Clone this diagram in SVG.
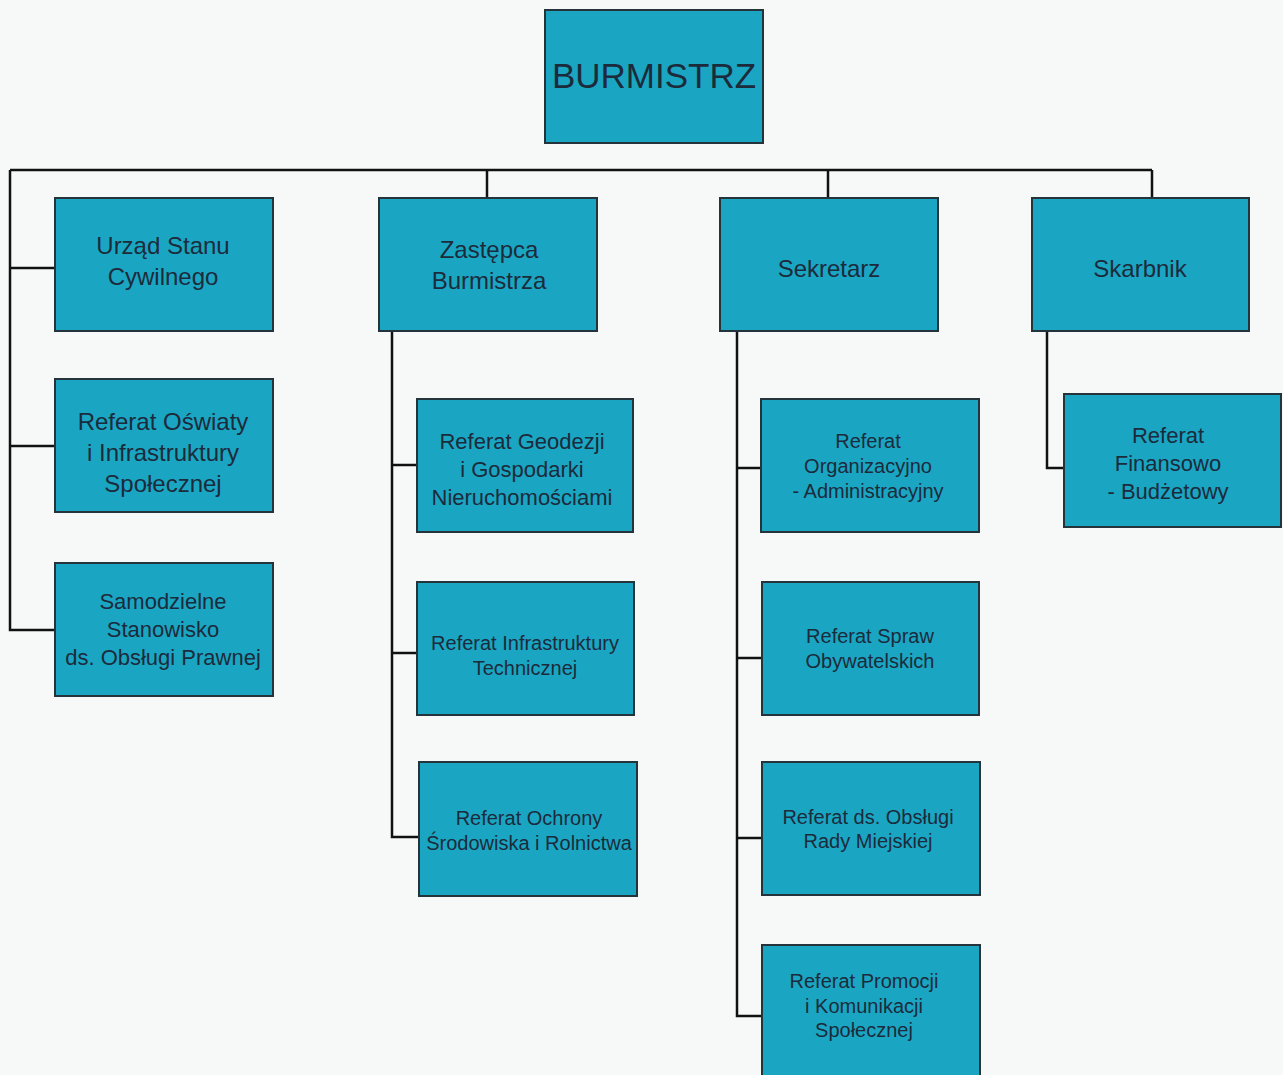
<svg xmlns="http://www.w3.org/2000/svg" width="1283" height="1075" viewBox="0 0 1283 1075">
<style>
.box{fill:#1aa6c2;stroke:#25343a;stroke-width:2}
.t{font-family:"Liberation Sans",Arial,sans-serif;fill:#1c2b3c;text-anchor:middle}
.l{fill:none;stroke:#111;stroke-width:2.5}
</style>
<rect width="1283" height="1075" fill="#f7f8f8"/>
<g id="connectors">
<path class="l" d="M10 170H1152M10 170V630H55M10 268H55M10 446H55"/>
<path class="l" d="M487 170V198M828 170V198M1152 170V198"/>
<path class="l" d="M392 332V837H419M392 465H417M392 653H417"/>
<path class="l" d="M737 332V1016H762M737 468H761M737 658H762M737 838H762"/>
<path class="l" d="M1047 332V468H1064"/>
</g>
<g id="burmistrz"><rect class="box" x="545" y="10" width="218" height="133"/><text class="t" x="654" y="88" font-size="35">BURMISTRZ</text></g>
<g id="usc"><rect class="box" x="55" y="198" width="218" height="133"/><text class="t" x="163" y="254" font-size="24">Urząd Stanu</text><text class="t" x="163" y="285" font-size="24">Cywilnego</text></g>
<g id="zastepca"><rect class="box" x="379" y="198" width="218" height="133"/><text class="t" x="489" y="258" font-size="24">Zastępca</text><text class="t" x="489" y="289" font-size="24">Burmistrza</text></g>
<g id="sekretarz"><rect class="box" x="720" y="198" width="218" height="133"/><text class="t" x="829" y="277" font-size="24">Sekretarz</text></g>
<g id="skarbnik"><rect class="box" x="1032" y="198" width="217" height="133"/><text class="t" x="1140" y="277" font-size="24">Skarbnik</text></g>
<g id="oswiaty"><rect class="box" x="55" y="379" width="218" height="133"/><text class="t" x="163" y="430" font-size="24">Referat Oświaty</text><text class="t" x="163" y="461" font-size="24">i Infrastruktury</text><text class="t" x="163" y="492" font-size="24">Społecznej</text></g>
<g id="prawna"><rect class="box" x="55" y="563" width="218" height="133"/><text class="t" x="163" y="609" font-size="22">Samodzielne</text><text class="t" x="163" y="637" font-size="22">Stanowisko</text><text class="t" x="163" y="665" font-size="22">ds. Obsługi Prawnej</text></g>
<g id="geodezji"><rect class="box" x="417" y="399" width="216" height="133"/><text class="t" x="522" y="449" font-size="22">Referat Geodezji</text><text class="t" x="522" y="477" font-size="22">i Gospodarki</text><text class="t" x="522" y="505" font-size="22">Nieruchomościami</text></g>
<g id="infrastruktury"><rect class="box" x="417" y="582" width="217" height="133"/><text class="t" x="525" y="650" font-size="20">Referat Infrastruktury</text><text class="t" x="525" y="675" font-size="20">Technicznej</text></g>
<g id="ochrony"><rect class="box" x="419" y="762" width="218" height="134"/><text class="t" x="529" y="825" font-size="20">Referat Ochrony</text><text class="t" x="529" y="850" font-size="20">Środowiska i Rolnictwa</text></g>
<g id="organizacyjny"><rect class="box" x="761" y="399" width="218" height="133"/><text class="t" x="868" y="448" font-size="20">Referat</text><text class="t" x="868" y="473" font-size="20">Organizacyjno</text><text class="t" x="868" y="498" font-size="20">- Administracyjny</text></g>
<g id="obywatelskie"><rect class="box" x="762" y="582" width="217" height="133"/><text class="t" x="870" y="643" font-size="20">Referat Spraw</text><text class="t" x="870" y="668" font-size="20">Obywatelskich</text></g>
<g id="rada"><rect class="box" x="762" y="762" width="218" height="133"/><text class="t" x="868" y="824" font-size="20">Referat ds. Obsługi</text><text class="t" x="868" y="848" font-size="20">Rady Miejskiej</text></g>
<g id="promocji"><rect class="box" x="762" y="945" width="218" height="140"/><text class="t" x="864" y="988" font-size="20">Referat Promocji</text><text class="t" x="864" y="1013" font-size="20">i Komunikacji</text><text class="t" x="864" y="1037" font-size="20">Społecznej</text></g>
<g id="finansowy"><rect class="box" x="1064" y="394" width="217" height="133"/><text class="t" x="1168" y="443" font-size="22">Referat</text><text class="t" x="1168" y="471" font-size="22">Finansowo</text><text class="t" x="1168" y="499" font-size="22">- Budżetowy</text></g>
</svg>
